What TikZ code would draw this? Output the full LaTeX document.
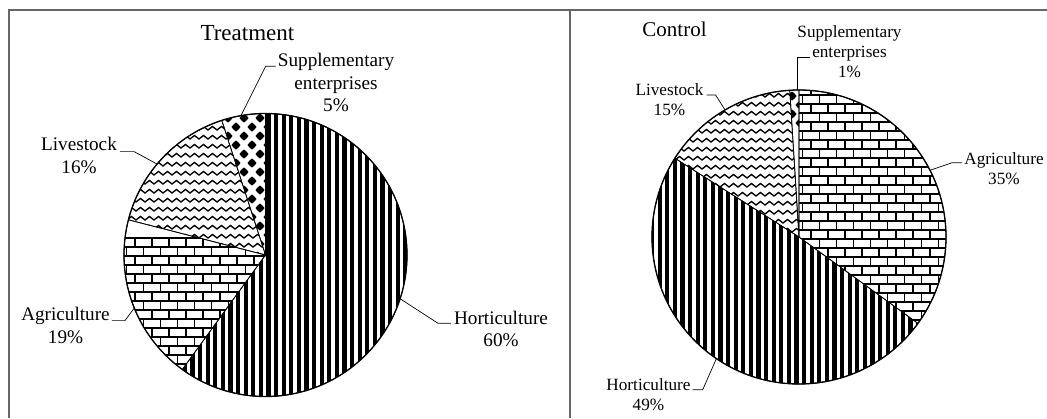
\documentclass[tikz,border=0pt]{standalone}
\usepackage{fontspec}
\setmainfont{Liberation Serif}

\begin{document}
\begin{tikzpicture}
  [x=1pt,y=1pt,
   slice/.style={draw=black,line width=0.7pt},
   lead/.style={draw=black,line width=0.7pt},
   frame/.style={draw=black!60,line width=1.4pt},
   brick/.style={line width=1.4pt},
   wave/.style={line width=1.35pt},
   ttl/.style={font=\fontsize{23}{27}\selectfont,inner sep=0pt,anchor=base},
   ctl/.style={font=\fontsize{21}{25}\selectfont,inner sep=0pt,anchor=base},
   tlab/.style={font=\fontsize{19.2}{22.7}\selectfont,align=center,inner sep=0pt,anchor=base},
   clab/.style={font=\fontsize{17.2}{20}\selectfont,align=center,inner sep=0pt,anchor=base}]
  \useasboundingbox (0,0) rectangle (1047,-418);
  \draw[frame] (9,-418) -- (9,-10) -- (1047,-10);
  \draw[frame] (570,-10) -- (570,-418);

  % Treatment
  \coordinate (tc) at (265.5,-255);
  \begin{scope}
    \clip (tc) -- ++(90:141.5) arc[start angle=90,end angle=-126,radius=141.5] -- cycle;
    \foreach \x in {122,129.6,...,412} \fill (\x,-110) rectangle ++(4.1,-292);
  \end{scope}
  \begin{scope}
    \clip (tc) -- ++(234:141.5) arc[start angle=234,end angle=165.6,radius=141.5] -- cycle;
    \foreach \i in {0,...,18} {
      \draw[brick] (118,-238-9*\i) -- ++(155,0);
      \foreach \j in {0,...,9} \draw[brick] ({118+17*\j+8.5*mod(\i,2)},-238-9*\i) -- ++(0,-9);
    }
  \end{scope}
  \begin{scope}
    \clip (tc) -- ++(165.6:141.5) arc[start angle=165.6,end angle=108,radius=141.5] -- cycle;
    \foreach \i in {0,...,17}
      \draw[wave] (118,-112-9*\i) \foreach \k in {1,...,17} {-- ++(4.5,3.5) -- ++(4.5,-3.5)};
  \end{scope}
  \begin{scope}
    \clip (tc) -- ++(108:141.5) arc[start angle=108,end angle=90,radius=141.5] -- cycle;
    \foreach \i in {0,...,17} \foreach \j in {0,...,4}
      \fill[shift={({212+16*\j+8*mod(\i,2)},-118-9*\i)}]
        (4.5,0) -- (2.5,2.5) -- (0,4.5) -- (-2.5,2.5) -- (-4.5,0) -- (-2.5,-2.5) -- (0,-4.5) -- (2.5,-2.5) -- cycle;
  \end{scope}
  \foreach \a/\b in {90/-126,234/165.6,165.6/108,108/90}
    \draw[slice] (tc) -- ++(\a:141.5) arc[start angle=\a,end angle=\b,radius=141.5] -- cycle;
  \draw[line width=1.3pt] (tc) circle[radius=141.5];

  % Control
  \coordinate (cc) at (799,-237);
  \begin{scope}
    \clip (cc) -- ++(90:147) arc[start angle=90,end angle=-36,radius=147] -- cycle;
    \foreach \i in {0,...,35} {
      \draw[brick] (794,-86-9*\i) -- ++(160,0);
      \foreach \j in {0,...,9} \draw[brick] ({794+17*\j+8.5*mod(\i,2)},-86-9*\i) -- ++(0,-9);
    }
  \end{scope}
  \begin{scope}
    \clip (cc) -- ++(-36:147) arc[start angle=-36,end angle=-212.4,radius=147] -- cycle;
    \foreach \x in {650,657.6,...,950} \fill (\x,-85) rectangle ++(4.1,-305);
  \end{scope}
  \begin{scope}
    \clip (cc) -- ++(147.6:147) arc[start angle=147.6,end angle=93.6,radius=147] -- cycle;
    \foreach \i in {0,...,18}
      \draw[wave] (648,-88-9*\i) \foreach \k in {1,...,18} {-- ++(4.5,3.5) -- ++(4.5,-3.5)};
  \end{scope}
  \begin{scope}
    \clip (cc) -- ++(93.6:147) arc[start angle=93.6,end angle=90,radius=147] -- cycle;
    \foreach \i in {0,...,3} \foreach \j in {0,1}
      \fill[shift={({792+16*\j+8*mod(\i,2)},-96-9*\i)}]
        (4.5,0) -- (2.5,2.5) -- (0,4.5) -- (-2.5,2.5) -- (-4.5,0) -- (-2.5,-2.5) -- (0,-4.5) -- (2.5,-2.5) -- cycle;
  \end{scope}
  \foreach \a/\b in {90/-36,-36/-212.4,147.6/93.6,93.6/90}
    \draw[slice] (cc) -- ++(\a:147) arc[start angle=\a,end angle=\b,radius=147] -- cycle;
  \draw[line width=1.3pt] (cc) circle[radius=147];

  \node[ttl] (ttitle) at (247.4,-40.7) {Treatment};
  \node[tlab] (tsup) at (336,-111.7) {Supplementary\\enterprises\\5\%};
  \node[tlab] (tliv) at (79,-173.3) {Livestock\\16\%};
  \node[tlab] (tagr) at (65.5,-343.3) {Agriculture\\19\%};
  \node[tlab] (thor) at (501,-346.7) {Horticulture\\60\%};

  \coordinate (tsupend) at ([shift={(100:141.5)}]tc);
  \coordinate (tlivend) at ([shift={(140:141.5)}]tc);
  \coordinate (tagrend) at ([shift={(202:141.5)}]tc);
  \coordinate (thorend) at ([shift={(-18:141.5)}]tc);
  \draw[lead] ([xshift=-2,yshift=45.4]tsup.base west) -- ++(-10,0) -- (tsupend);
  \draw[lead] ([xshift=3,yshift=21.7]tliv.base east) -- ++(14,0) -- (tlivend);
  \draw[lead] ([xshift=2,yshift=22.7]tagr.base east) -- ++(13,0) -- (tagrend);
  \draw[lead] ([xshift=-3,yshift=23.5]thor.base west) -- ++(-13,0) -- (thorend);

  \node[ctl] (ctitle) at (674.5,-36) {Control};
  \node[clab] (csup) at (849.5,-77.3) {Supplementary\\enterprises\\1\%};
  \node[clab] (cliv) at (669.5,-115) {Livestock\\15\%};
  \node[clab] (cagr) at (1004,-184) {Agriculture\\35\%};
  \node[clab] (chor) at (648.5,-410.7) {Horticulture\\49\%};

  \coordinate (csupstart) at (810,-57.5);
  \coordinate (csupend) at ([shift={(90.8:147)}]cc);
  \coordinate (clivend) at ([shift={(120.2:147)}]cc);
  \coordinate (cagrend) at ([shift={(27:147)}]cc);
  \coordinate (chorend) at ([shift={(-124.2:147)}]cc);
  \draw[lead] (csupstart) -- (csupend |- csupstart) -- (csupend);
  \draw[lead] ([xshift=3,yshift=20]cliv.base east) -- ++(9,0) -- (clivend);
  \draw[lead] ([xshift=-2,yshift=21.3]cagr.base west) -- ++(-10,0) -- (cagrend);
  \draw[lead] ([xshift=2,yshift=21]chor.base east) -- ++(10,0) -- (chorend);
\end{tikzpicture}
\end{document}
